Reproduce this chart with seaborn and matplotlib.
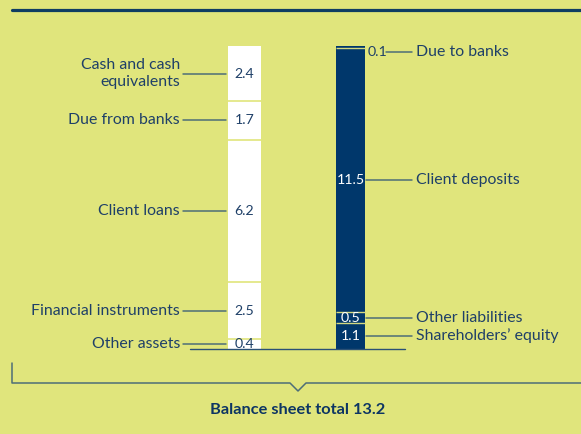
import numpy as np
import matplotlib
matplotlib.use("Agg")
import matplotlib.pyplot as plt
import seaborn as sns

# Balance sheet structure (billions)
assets = ["Cash and cash\nequivalents", "Due from banks", "Client loans",
          "Financial instruments", "Other assets"]
asset_values = [2.4, 1.7, 6.2, 2.5, 0.4]
liabilities = ["Due to banks", "Client deposits", "Other liabilities",
               "Shareholders’ equity"]
liability_values = [0.1, 11.5, 0.5, 1.1]
total = 13.2
sides = ["Assets", "Liabilities"]

BG = "#e0e57c"
NAVY = "#00376b"
TEXT = "#1f4068"
LEAD = "#4d6e78"

sns.set_theme(style="white")
plt.rcParams["font.family"] = ["Lato", "DejaVu Sans"]

W, H = 581, 434
fig = plt.figure(figsize=(W / 100, H / 100), dpi=100, facecolor=BG)
ax = fig.add_axes([0, 0, 1, 1])
ax.set_facecolor(BG)

# layout helpers: pixel positions -> data coordinates
X0, XSTEP = 244.5, 106.0          # centre of first bar, spacing of bars
Y0, YTOP = 348.5, 46.0            # baseline and top of the bars
YSCALE = (Y0 - YTOP) / total


def px2x(px):
    return (px - X0) / XSTEP


def px2y(py):
    return (Y0 - py) / YSCALE


def segments(values):
    vals = np.array(values, dtype=float)
    tops = np.cumsum(vals[::-1])[::-1]
    return tops, tops - vals


a_tops, a_bots = segments(asset_values)
l_tops, l_bots = segments(liability_values)

WA, WL = 33 / XSTEP, 29 / XSTEP

# stacked columns: tallest cumulative bar first, the rest layered on top
for top in a_tops:
    sns.barplot(x=[sides[0]], y=[top], order=sides, color="white",
                saturation=1, width=WA, edgecolor="none", ax=ax)
for top in l_tops:
    sns.barplot(x=[sides[1]], y=[top], order=sides, color=NAVY,
                saturation=1, width=WL, edgecolor="none", ax=ax)

# thin separators at segment boundaries
for b in a_bots[:-1]:
    ax.plot([-WA / 2, WA / 2], [b, b], color=BG, lw=1.2, zorder=3,
            solid_capstyle="butt")
for b in l_bots[:-1]:
    ax.plot([1 - WL / 2, 1 + WL / 2], [b, b], color="#d3d97f", lw=1.0,
            zorder=3, solid_capstyle="butt")

ax.set_xlim(px2x(0), px2x(W))
ax.set_ylim(px2y(H), px2y(0))
ax.axis("off")

fs_lab = 11.4
fs_val = 10.2

# asset labels, leaders and values
for name, v, t, b in zip(assets, asset_values, a_tops, a_bots):
    ym = (t + b) / 2
    ax.plot([px2x(183), px2x(226)], [ym, ym], color=LEAD, lw=1.1, zorder=3)
    ax.text(px2x(180), ym, name, ha="right", va="center", fontsize=fs_lab,
            color=TEXT, linespacing=1.2)
    ax.text(0, ym, f"{v:.1f}", ha="center", va="center", fontsize=fs_val,
            color=TEXT, zorder=4)

# liability labels, leaders and values
for name, v, t, b in zip(liabilities, liability_values, l_tops, l_bots):
    ym = (t + b) / 2
    if v < 0.3:
        yl = ym - 0.2
        ax.text(px2x(368), yl, f"{v:.1f}", ha="left", va="center",
                fontsize=fs_val, color=TEXT)
        x_start = px2x(386)
    else:
        yl = ym
        ax.text(1, ym, f"{v:.1f}", ha="center", va="center",
                fontsize=fs_val, color="white", zorder=4)
        x_start = px2x(366)
    ax.plot([x_start, px2x(412)], [yl, yl], color=LEAD, lw=1.1, zorder=3)
    ax.text(px2x(416), yl, name, ha="left", va="center", fontsize=fs_lab,
            color=TEXT)

# baseline
ax.plot([px2x(190), px2x(405)], [0, 0], color="#2a5075", lw=1.0, zorder=5)

# top rule
ax.plot([px2x(12), px2x(W)], [px2y(10), px2y(10)], color="#0f3d62", lw=2.3)

# bracket with notch
bx = [px2x(12), px2x(12), px2x(290), px2x(298), px2x(306), px2x(W)]
by = [px2y(363), px2y(383), px2y(383), px2y(391), px2y(383), px2y(383)]
ax.plot(bx, by, color=LEAD, lw=1.1)

ax.text(px2x(298), px2y(410), f"Balance sheet total {total:.1f}",
        ha="center", va="center", fontsize=11.8, fontweight="bold",
        color="#0d3563")

fig.savefig("out.png", dpi=100, facecolor=BG)
